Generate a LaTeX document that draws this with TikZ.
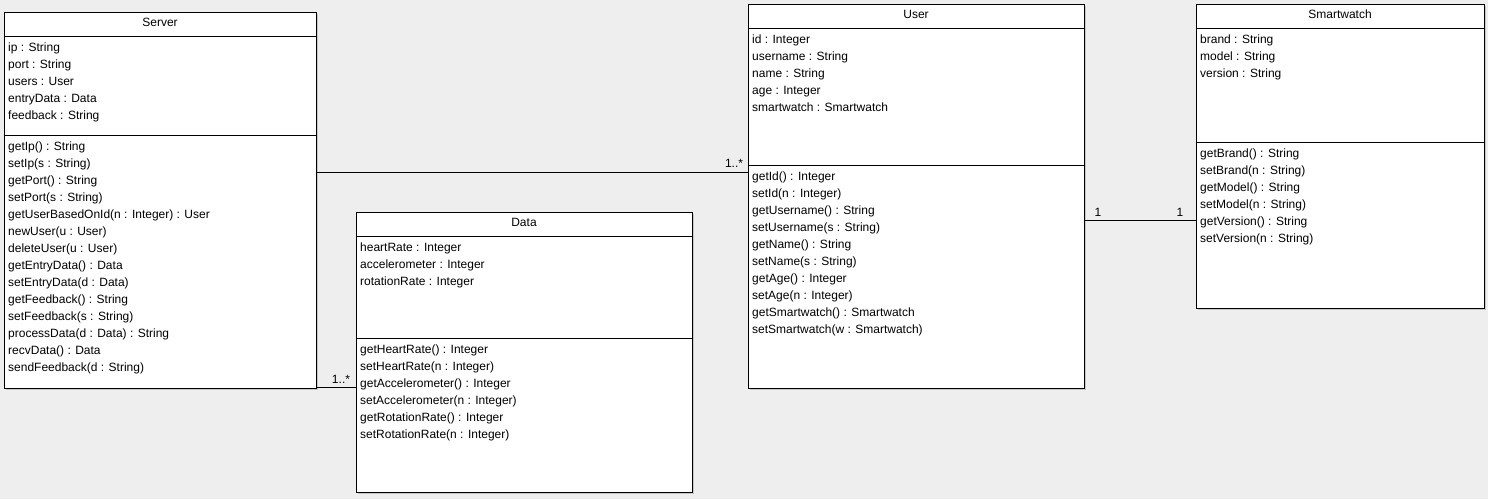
\documentclass[tikz,border=0pt]{standalone}
\usepackage{fontspec}
\setmainfont{Liberation Sans}
\usetikzlibrary{shadows}
\definecolor{canvas}{RGB}{238,238,238}
\tikzset{
  classbox/.style={draw=black, fill=white, line width=1pt, inner sep=0pt,
    anchor=north west,
    drop shadow={shadow xshift=1.6pt, shadow yshift=-1.6pt, fill=black!22, opacity=1}},
  sep/.style={draw=black, line width=1pt},
  assoc/.style={draw=black, line width=1pt},
  member/.style={anchor=base west, inner sep=0pt, font=\fontsize{12pt}{17pt}\selectfont},
  ctitle/.style={anchor=base, inner sep=0pt, font=\fontsize{12pt}{17pt}\selectfont},
  mult/.style={anchor=base, inner sep=0pt, font=\fontsize{12pt}{17pt}\selectfont}
}
% \umlclass{id}{x1}{y1}{x2}{y2}{attribute separator y}{title}{attributes}{operations}
\newcommand{\umlclass}[9]{%
  \node[classbox, minimum width={#4pt-#2pt}, minimum height={#5pt-#3pt}] (#1) at (#2,#3) {};
  \draw[sep] (#2,#3+24) -- (#4,#3+24);
  \draw[sep] (#2,#6) -- (#4,#6);
  \node[ctitle] (#1-t) at ({(#2+#4)/2},#3+14.5) {#7};
  \foreach \txt [count=\i] in {#8}
    \node[member] (#1-a\i) at (#2+4,#3+39+17*\i-17) {\txt};
  \foreach \txt [count=\i] in {#9}
    \node[member] (#1-m\i) at (#2+4,#6+15+17*\i-17) {\txt};
}
\begin{document}
\begin{tikzpicture}[x=1pt,y=-1pt]
  \fill[canvas] (0,0) rectangle (1488,499);
  \useasboundingbox (0,0) rectangle (1488,499);

  \umlclass{server}{4}{12}{316}{388}{135}{Server}
    {ip : String, port : String, users : User, entryData : Data, feedback : String}
    {getIp() : String, setIp(s : String), getPort() : String, setPort(s : String),
     getUserBasedOnId(n : Integer) : User, newUser(u : User), deleteUser(u : User),
     getEntryData() : Data, setEntryData(d : Data), getFeedback() : String,
     setFeedback(s : String), processData(d : Data) : String, recvData() : Data,
     sendFeedback(d : String)}

  \umlclass{data}{356}{212}{692}{492}{338}{Data}
    {heartRate : Integer, accelerometer : Integer, rotationRate : Integer}
    {getHeartRate() : Integer, setHeartRate(n : Integer), getAccelerometer() : Integer,
     setAccelerometer(n : Integer), getRotationRate() : Integer, setRotationRate(n : Integer)}

  \umlclass{user}{748}{4}{1084}{388}{165}{User}
    {id : Integer, username : String, name : String, age : Integer, smartwatch : Smartwatch}
    {getId() : Integer, setId(n : Integer), getUsername() : String, setUsername(s : String),
     getName() : String, setName(s : String), getAge() : Integer, setAge(n : Integer),
     getSmartwatch() : Smartwatch, setSmartwatch(w : Smartwatch)}

  \umlclass{watch}{1196}{4}{1484}{308}{142}{Smartwatch}
    {brand : String, model : String, version : String}
    {getBrand() : String, setBrand(n : String), getModel() : String, setModel(n : String),
     getVersion() : String, setVersion(n : String)}

  % associations
  \draw[assoc] (server.east |- 0,172) -- (user.west |- 0,172);
  \draw[assoc] (server.east |- 0,387) -- (data.west |- 0,387);
  \draw[assoc] (user.east |- 0,220) -- (watch.west |- 0,220);

  % multiplicities
  \node[mult] (m-user) at (734,167) {1..*};
  \node[mult] (m-data) at (341,383) {1..*};
  \node[mult] (m-u1) at (1098,216) {1};
  \node[mult] (m-w1) at (1180,216) {1};
\end{tikzpicture}
\end{document}
